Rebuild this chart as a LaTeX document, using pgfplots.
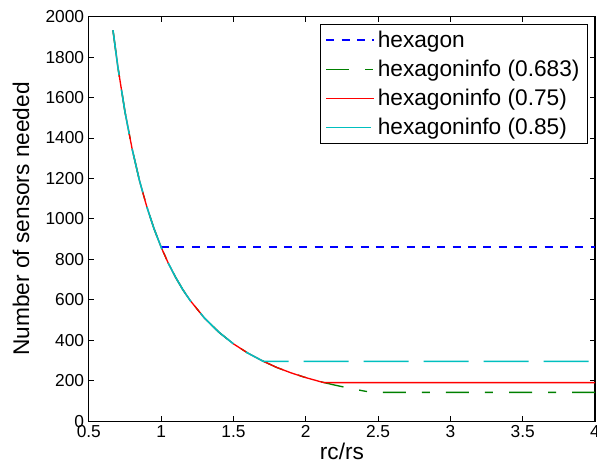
\documentclass[border=0pt]{standalone}
\usepackage{fontspec}
\setmainfont{Liberation Sans}
\usepackage{pgfplots}
\pgfplotsset{compat=1.18}
\definecolor{matblue}{rgb}{0,0,1}
\definecolor{matgreen}{rgb}{0,0.5,0}
\definecolor{matred}{rgb}{1,0,0}
\definecolor{matcyan}{rgb}{0,0.75,0.75}
\begin{document}
\begin{tikzpicture}
\begin{axis}[
  scale only axis,
  width=379.5pt, height=303.2pt,
  xmin=0.5, xmax=4, ymin=0, ymax=2000,
  xtick={0.5,1,...,4}, ytick={0,200,...,2000},
  scaled ticks=false,
  /pgf/number format/1000 sep={},
  /pgf/number format/assume math mode=true,
  tick align=inside, tick pos=both,
  major tick length=3.75pt,
  axis line style={line width=0.8pt},
  tick style={line width=0.6pt, black},
  ticklabel style={font=\fontsize{13}{15}\selectfont},
  xlabel={rc/rs}, ylabel={Number of sensors needed},
  label style={font=\fontsize{17}{19}\selectfont},
  xlabel style={at={(axis description cs:0.5,-0.075)}, anchor=center},
  ylabel style={at={(axis description cs:-0.134,0.5)}, anchor=center},
  legend style={at={(rel axis cs:0.986,0.982)}, anchor=north east,
    font=\fontsize{17}{19}\selectfont, draw=black, line width=0.6pt,
    inner xsep=4pt, inner ysep=3pt, row sep=4pt,
    legend cell align=left},
  legend image code/.code={\draw[#1] (0pt,0pt) -- (36pt,0pt);},
]
\addplot[color=matblue, line width=1.2pt, dash pattern=on 6pt off 5.5pt] coordinates {
(1.0,860) (4.0,860)};
\addlegendentry{hexagon}
\addplot[color=matgreen, line width=1pt, dash pattern=on 17.25pt off 12pt on 6pt off 12pt] coordinates {
(0.667,1933) (0.7,1755) (0.75,1529) (0.8,1344) (0.85,1190) (0.9,1062) (0.95,953)
(1.0,860) (1.05,780) (1.1,711) (1.15,650) (1.2,597) (1.3,509) (1.4,439) (1.5,382)
(1.6,336) (1.7,298) (1.8,265) (1.9,238) (2.0,215) (2.1,195) (2.2,178) (2.3,163)
(2.4,149) (2.46,142) (4.0,142)};
\addlegendentry{hexagoninfo (0.683)}
\addplot[color=matred, line width=1pt] coordinates {
(0.667,1933) (0.7,1755) (0.75,1529) (0.8,1344) (0.85,1190) (0.9,1062) (0.95,953)
(1.0,860) (1.05,780) (1.1,711) (1.15,650) (1.2,597) (1.3,509) (1.4,439) (1.5,382)
(1.6,336) (1.7,298) (1.8,265) (1.9,238) (2.0,215) (2.1,195) (2.128,190) (4.0,190)};
\addlegendentry{hexagoninfo (0.75)}
\addplot[color=matcyan, line width=1.2pt, dash pattern=on 33.75pt off 11.25pt] coordinates {
(0.667,1933) (0.7,1755) (0.75,1529) (0.8,1344) (0.85,1190) (0.9,1062) (0.95,953)
(1.0,860) (1.05,780) (1.1,711) (1.15,650) (1.2,597) (1.3,509) (1.4,439) (1.5,382)
(1.6,336) (1.7,298) (1.707,295) (4.0,295)};
\addlegendentry{hexagoninfo (0.85)}
\end{axis}
\pgfresetboundingbox
\useasboundingbox ([xshift=-66.6pt,yshift=-35.25pt]current axis.south west) rectangle ([xshift=1.5pt,yshift=12.5pt]current axis.north east);
\end{tikzpicture}
\end{document}
